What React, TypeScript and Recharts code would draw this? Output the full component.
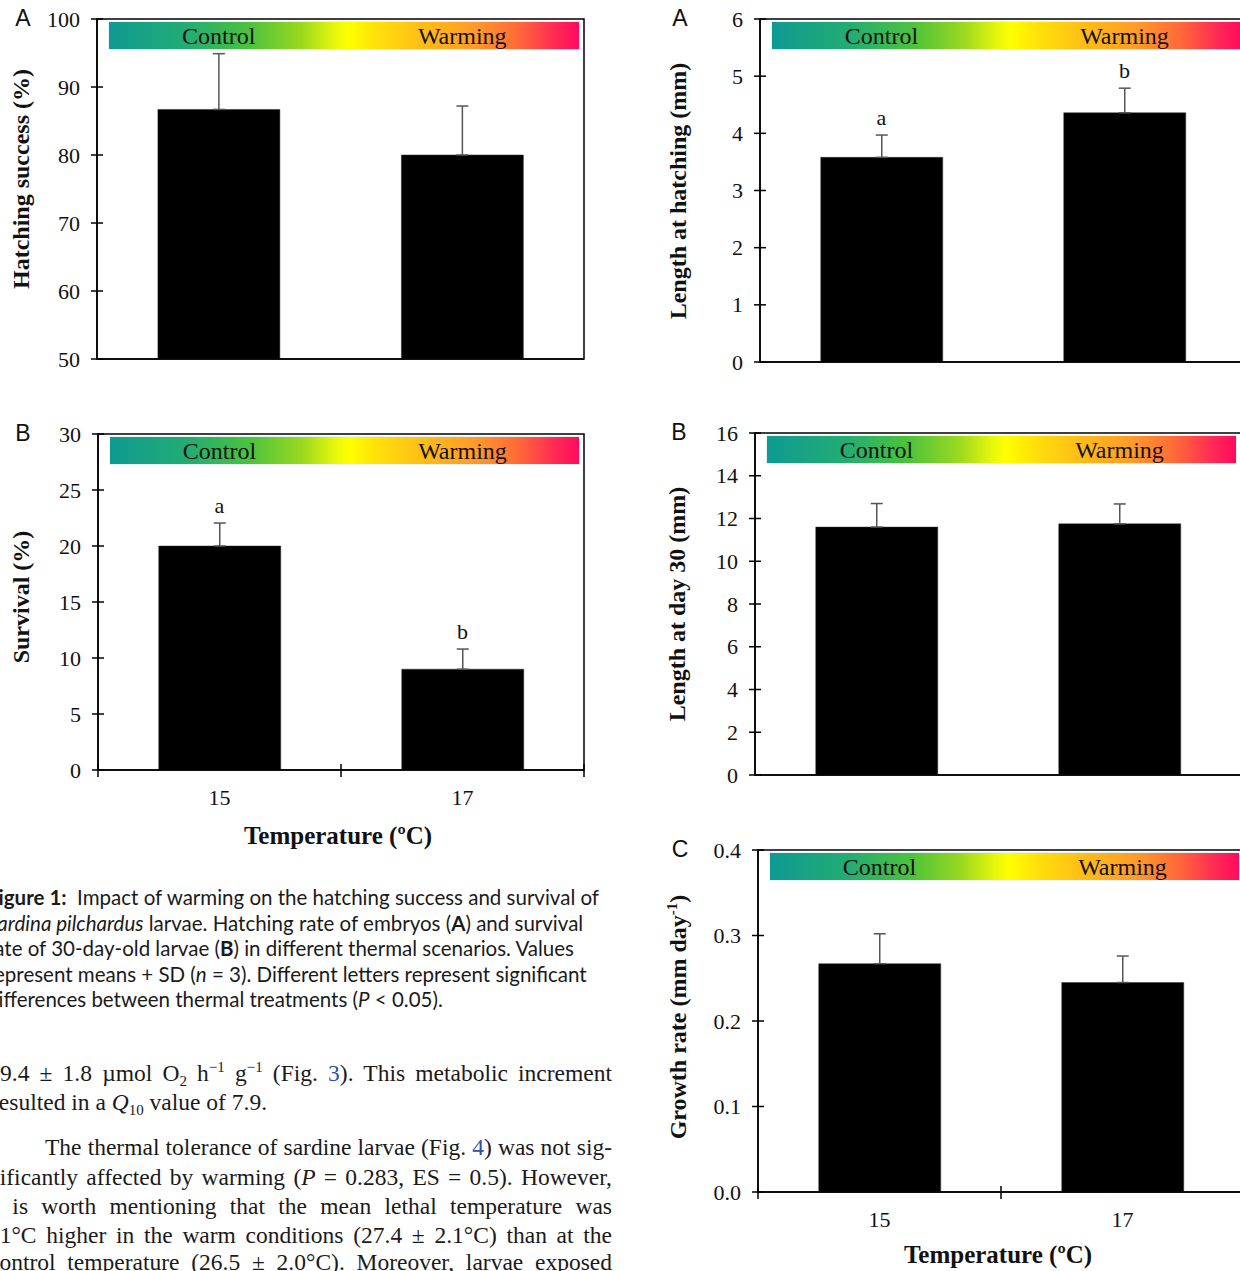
import React from "react";
import { ComposedChart, Bar, Line, XAxis, YAxis, ErrorBar, LabelList, ReferenceArea } from "recharts";

// categories (temperature, ºC)
const temperatures = ["15", "17"];

// hatching success (%)
const hatchingSuccess = [86.7, 80.0];
const hatchingSuccessSd = [8.2, 7.2];
const hatchingTicks = [50, 60, 70, 80, 90, 100];

// survival (%)
const survival = [20.0, 9.0];
const survivalSd = [2.05, 1.8];
const survivalLetters = ["a", "b"];
const survivalTicks = [0, 5, 10, 15, 20, 25, 30];

// length at hatching (mm)
const lengthHatching = [3.58, 4.36];
const lengthHatchingSd = [0.39, 0.43];
const lengthHatchingLetters = ["a", "b"];
const lengthHatchingTicks = [0, 1, 2, 3, 4, 5, 6];

// length at day 30 (mm)
const lengthDay30 = [11.6, 11.75];
const lengthDay30Sd = [1.1, 0.93];
const lengthDay30Ticks = [0, 2, 4, 6, 8, 10, 12, 14, 16];

// growth rate (mm day-1)
const growthRate = [0.267, 0.245];
const growthRateSd = [0.035, 0.031];
const growthRateTicks = [0, 0.1, 0.2, 0.3, 0.4];

const treatments = ["Control", "Warming"];

const SERIF = '"Liberation Serif", "Times New Roman", serif';
const SANS = '"Liberation Sans", Arial, sans-serif';
const CAPTION = 'Lato, "Open Sans", sans-serif';

const Y_AXIS_W = 97;
const PAD = 18;
const TICK_GAP = 17;
const X_GAP = 27;

function YTick(props: any) {
  const { x, y, payload, digits } = props;
  const ax = x + TICK_GAP;
  const v = digits ? Number(payload.value).toFixed(digits) : String(payload.value);
  return (
    <g>
      <line x1={ax - 6} x2={ax + 6} y1={y} y2={y} stroke="#000" strokeWidth={1.5} />
      <text x={x} y={y} textAnchor="end" dominantBaseline="central" fontFamily={SERIF} fontSize={22} fill="#111">
        {v}
      </text>
    </g>
  );
}

function XTick(props: any) {
  const { x, y, payload, index, band } = props;
  const ay = y - X_GAP;
  return (
    <g>
      {index === 0 && <line x1={x - band / 2} x2={x - band / 2} y1={ay - 6} y2={ay + 7} stroke="#000" strokeWidth={1.5} />}
      <line x1={x + band / 2} x2={x + band / 2} y1={ay - 6} y2={ay + 7} stroke="#000" strokeWidth={1.5} />
      <text x={x} y={y} textAnchor="middle" dominantBaseline="central" fontFamily={SERIF} fontSize={22} fill="#111">
        {payload.value}
      </text>
    </g>
  );
}

type PanelProps = {
  letter: string;
  x0: number;
  y0: number;
  x1: number;
  y1: number;
  means: number[];
  sds: number[];
  letters?: string[];
  domain: [number, number];
  ticks: number[];
  digits?: number;
  yTitle: React.ReactNode;
  yTitleX: number;
  yTitleShift?: number;
  xLabels?: boolean;
  xTitleY?: number;
};

function Panel(p: PanelProps) {
  const plotW = p.x1 - p.x0;
  const plotH = p.y1 - p.y0;
  const xAxisH = p.xLabels ? 50 : 18;
  const band = plotW / temperatures.length;
  const data = temperatures.map((t, i) => ({
    t,
    mean: p.means[i],
    err: [0, p.sds[i]],
    top: p.means[i] + p.sds[i],
    letter: p.letters ? p.letters[i] : "",
  }));
  const left = p.x0 - Y_AXIS_W;
  const top = p.y0 - PAD;
  const w = Y_AXIS_W + plotW + PAD;
  const h = PAD + plotH + xAxisH;
  const axisLine = { stroke: "#000", strokeWidth: 1.5 };

  return (
    <>
      <div style={{ position: "absolute", left, top, width: w, height: h }}>
        <ComposedChart
          width={w}
          height={h}
          data={data}
          margin={{ top: PAD, right: PAD, bottom: 0, left: 0 }}
          barCategoryGap="25%"
        >
          <XAxis
            dataKey="t"
            height={xAxisH}
            axisLine={axisLine}
            tickLine={false}
            tickSize={0}
            tickMargin={X_GAP}
            tick={p.xLabels ? (tp: any) => <XTick {...tp} band={band} /> : false}
          />
          <YAxis
            width={Y_AXIS_W}
            domain={p.domain}
            ticks={p.ticks}
            interval={0}
            allowDataOverflow
            tickLine={false}
            tickSize={0}
            tickMargin={TICK_GAP}
            axisLine={axisLine}
            tick={(tp: any) => <YTick {...tp} digits={p.digits} />}
          />
          <ReferenceArea
            y1={p.domain[0]}
            y2={p.domain[1]}
            fill="none"
            fillOpacity={0}
            stroke="#000"
            strokeWidth={1.5}
            ifOverflow="visible"
          />
          <Bar dataKey="mean" fill="#000" stroke="#333" strokeWidth={0.5} isAnimationActive={false}>
            <ErrorBar dataKey="err" direction="y" width={6} stroke="#555" strokeWidth={1.5} isAnimationActive={false} />
          </Bar>
          {p.letters && (
            <Line dataKey="top" stroke="none" dot={false} activeDot={false} isAnimationActive={false}>
              <LabelList dataKey="letter" position="top" offset={10} fontFamily={SERIF} fontSize={22} fill="#111" />
            </Line>
          )}
        </ComposedChart>
      </div>

      {/* treatment banner */}
      <div
        style={{
          position: "absolute",
          left: p.x0 + 11,
          top: p.y0 + 2,
          width: plotW - 15,
          height: 29,
          boxSizing: "border-box",
          border: "1px solid #e6f4f4",
          background:
            "linear-gradient(to right, #0e9a93 0%, #24ad72 17%, #4cc23c 30%, #9bd91f 41%, #e6f70a 48%, #ffff00 51%, #ffe00a 57%, #ffbc18 67%, #ff9a2a 78%, #ff6a38 87%, #ff2a55 95%, #ff0a5e 100%)",
        }}
      />
      {treatments.map((tr, i) => (
        <div
          key={tr}
          style={{
            position: "absolute",
            left: p.x0 + band * (i + 0.5),
            top: p.y0 + 17,
            transform: "translate(-50%, -50%)",
            fontFamily: SERIF,
            fontSize: 24,
            color: "#111",
            whiteSpace: "nowrap",
          }}
        >
          {tr}
        </div>
      ))}

      {/* panel letter */}
      <div
        style={{
          position: "absolute",
          left: p.yTitleX + 2,
          top: p.y0 - 1,
          transform: "translate(-50%, -50%)",
          fontFamily: SANS,
          fontSize: 23,
          color: "#111",
        }}
      >
        {p.letter}
      </div>

      {/* y title */}
      <div
        style={{
          position: "absolute",
          left: p.yTitleX,
          top: p.y0 + plotH / 2 + (p.yTitleShift || 0),
          transform: "translate(-50%, -50%) rotate(-90deg)",
          fontFamily: SERIF,
          fontWeight: "bold",
          fontSize: 24,
          color: "#111",
          whiteSpace: "nowrap",
        }}
      >
        {p.yTitle}
      </div>

      {/* x title */}
      {p.xTitleY !== undefined && (
        <div
          style={{
            position: "absolute",
            left: p.x0 + plotW / 2 - 3,
            top: p.xTitleY,
            transform: "translate(-50%, -50%)",
            fontFamily: SERIF,
            fontWeight: "bold",
            fontSize: 25,
            color: "#111",
            whiteSpace: "nowrap",
          }}
        >
          Temperature (ºC)
        </div>
      )}
    </>
  );
}

const blue = { color: "#2f4fa8" };

function CapLine({ y, children }: { y: number; children: React.ReactNode }) {
  return (
    <div
      style={{
        position: "absolute",
        left: -13,
        top: y - 13,
        lineHeight: "26px",
        fontFamily: CAPTION,
        fontSize: 20.5,
        color: "#1a1a1a",
        whiteSpace: "nowrap",
      }}
    >
      {children}
    </div>
  );
}

function BodyLine({
  y,
  x = 0,
  justify = true,
  children,
}: {
  y: number;
  x?: number;
  justify?: boolean;
  children: React.ReactNode;
}) {
  return (
    <div
      style={{
        position: "absolute",
        left: x,
        top: y - 15,
        width: 612 - x,
        lineHeight: "30px",
        height: 30,
        fontFamily: SERIF,
        fontSize: 23.5,
        color: "#1a1a1a",
        whiteSpace: "nowrap",
        textAlign: justify ? "justify" : "left",
        textAlignLast: justify ? "justify" : "left",
      }}
    >
      {children}
    </div>
  );
}

const sup = { fontSize: 15, verticalAlign: "9px", lineHeight: 0 } as const;
const sub = { fontSize: 15, verticalAlign: "-5px", lineHeight: 0 } as const;

export default function App() {
  return (
    <div
      style={{
        position: "absolute",
        left: 0,
        top: 0,
        width: 1240,
        height: 1271,
        overflow: "hidden",
        background: "#fff",
      }}
    >
      <Panel
        letter="A"
        x0={97}
        y0={19}
        x1={584}
        y1={359}
        means={hatchingSuccess}
        sds={hatchingSuccessSd}
        domain={[50, 100]}
        ticks={hatchingTicks}
        yTitle="Hatching success (%)"
        yTitleX={21}
        yTitleShift={-10}
      />
      <Panel
        letter="B"
        x0={98}
        y0={434}
        x1={584}
        y1={770}
        means={survival}
        sds={survivalSd}
        letters={survivalLetters}
        domain={[0, 30]}
        ticks={survivalTicks}
        yTitle="Survival (%)"
        yTitleX={21}
        yTitleShift={-5}
        xLabels
        xTitleY={836}
      />
      <Panel
        letter="A"
        x0={760}
        y0={19}
        x1={1246}
        y1={362}
        means={lengthHatching}
        sds={lengthHatchingSd}
        letters={lengthHatchingLetters}
        domain={[0, 6]}
        ticks={lengthHatchingTicks}
        yTitle="Length at hatching (mm)"
        yTitleX={678}
      />
      <Panel
        letter="B"
        x0={755}
        y0={433}
        x1={1241}
        y1={775}
        means={lengthDay30}
        sds={lengthDay30Sd}
        domain={[0, 16]}
        ticks={lengthDay30Ticks}
        yTitle="Length at day 30 (mm)"
        yTitleX={677}
      />
      <Panel
        letter="C"
        x0={758}
        y0={850}
        x1={1244}
        y1={1192}
        means={growthRate}
        sds={growthRateSd}
        domain={[0, 0.4]}
        ticks={growthRateTicks}
        digits={1}
        yTitle={
          <span>
            Growth rate (mm day<sup style={{ fontSize: 15 }}>-1</sup>)
          </span>
        }
        yTitleX={678}
        yTitleShift={-4}
        xLabels
        xTitleY={1255}
      />

      {/* caption */}
      <CapLine y={897}>
        <b>Figure 1:</b>&nbsp; Impact of warming on the hatching success and survival of
      </CapLine>
      <CapLine y={923}>
        <i>Sardina pilchardus</i> larvae. Hatching rate of embryos (<b>A</b>) and survival
      </CapLine>
      <CapLine y={948}>
        rate of 30-day-old larvae (<b>B</b>) in different thermal scenarios. Values
      </CapLine>
      <CapLine y={974}>
        represent means + SD (<i>n</i> = 3). Different letters represent significant
      </CapLine>
      <CapLine y={999}>
        differences between thermal treatments (<i>P</i> &lt; 0.05).
      </CapLine>

      {/* body text */}
      <BodyLine y={1073}>
        9.4 ± 1.8 µmol O<span style={sub}>2</span> h<span style={sup}>−1</span> g<span style={sup}>−1</span> (Fig.{" "}
        <span style={blue}>3</span>). This metabolic increment
      </BodyLine>
      <BodyLine y={1102} x={-9} justify={false}>
        resulted in a <i>Q</i>
        <span style={sub}>10</span> value of 7.9.
      </BodyLine>
      <BodyLine y={1147} x={45}>
        The thermal tolerance of sardine larvae (Fig. <span style={blue}>4</span>) was not sig-
      </BodyLine>
      <BodyLine y={1177} x={-12}>
        nificantly affected by warming (<i>P</i> = 0.283, ES = 0.5). However,
      </BodyLine>
      <BodyLine y={1206} x={-14}>
        it is worth mentioning that the mean lethal temperature was
      </BodyLine>
      <BodyLine y={1235} x={-13}>
        ~1°C higher in the warm conditions (27.4 ± 2.1°C) than at the
      </BodyLine>
      <BodyLine y={1262} x={-11}>
        control temperature (26.5 ± 2.0°C). Moreover, larvae exposed
      </BodyLine>
    </div>
  );
}
